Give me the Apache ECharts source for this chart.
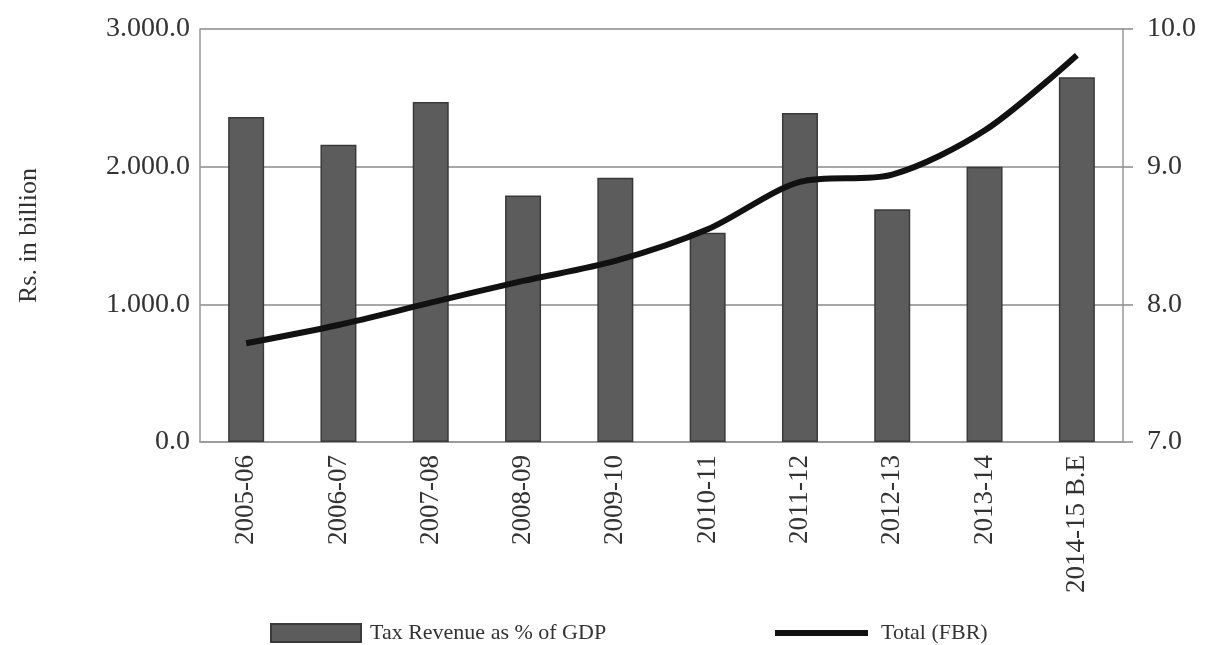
<!DOCTYPE html>
<html>
<head>
<meta charset="utf-8">
<script src="https://cdn.jsdelivr.net/npm/echarts@6/dist/echarts.min.js"></script>
<style>
  html, body { margin: 0; padding: 0; background: #fff; }
  #chart { width: 1210px; height: 645px; }
</style>
</head>
<body>
<div id="chart"></div>
<script>
// Fiscal years on the category axis
const years = ['2005-06', '2006-07', '2007-08', '2008-09', '2009-10',
               '2010-11', '2011-12', '2012-13', '2013-14', '2014-15 B.E'];
// Tax revenue as a share of GDP (%), right axis
const taxToGdp = [9.36, 9.16, 9.47, 8.79, 8.92, 8.52, 9.39, 8.69, 9.0, 9.65];
// Total FBR collection (Rs. billion), left axis
const fbrTotal = [717, 850, 1012, 1170, 1315, 1545, 1889, 1942, 2262, 2810];

const seriesNames = ['Tax Revenue as % of GDP', 'Total (FBR)'];
const leftTicks = { min: 0, max: 3000, interval: 1000 };
const rightTicks = { min: 7, max: 10, interval: 1 };

const serif = 'Liberation Serif';
const textColor = '#333';
const gridColor = '#8a8a8a';

// 3000 -> "3.000.0"
function fmtThousands(v) {
  const s = v.toFixed(1).split('.');
  const intPart = s[0].replace(/\B(?=(\d{3})+(?!\d))/g, '.');
  return intPart + '.' + s[1];
}

const chart = echarts.init(document.getElementById('chart'), null, { renderer: 'canvas' });

const legendText = { fontFamily: serif, fontSize: 22, color: textColor, lineHeight: 26 };

chart.setOption({
  backgroundColor: '#fff',
  animation: false,
  grid: { left: 200, right: 87, top: 29, bottom: 203, containLabel: false },
  legend: [
    {
      data: [{ name: seriesNames[0], icon: 'rect' }],
      left: 270, top: 620, padding: 0,
      itemWidth: 90, itemHeight: 18,
      textStyle: Object.assign({ padding: [0, 0, 0, 4] }, legendText)
    },
    {
      data: [{ name: seriesNames[1], icon: 'rect' }],
      left: 775, top: 620, padding: 0,
      itemWidth: 93, itemHeight: 6,
      itemStyle: { color: '#111' },
      textStyle: Object.assign({ padding: [0, 0, 0, 8] }, legendText)
    }
  ],
  xAxis: {
    type: 'category',
    data: years,
    axisLine: { show: true, lineStyle: { color: '#999', width: 1.5 } },
    axisTick: { show: false },
    axisLabel: {
      rotate: 90, margin: 13,
      fontFamily: serif, fontSize: 27, color: textColor
    }
  },
  yAxis: [
    {
      type: 'value',
      min: leftTicks.min, max: leftTicks.max, interval: leftTicks.interval,
      name: 'Rs. in billion',
      nameLocation: 'middle',
      nameGap: 158,
      nameRotate: 90,
      nameTextStyle: { fontFamily: serif, fontSize: 26, color: textColor },
      axisLine: { show: true, lineStyle: { color: '#999', width: 1.5 } },
      axisTick: { show: false },
      splitLine: { show: true, lineStyle: { color: gridColor, width: 1.5 } },
      axisLabel: {
        margin: 10,
        fontFamily: serif, fontSize: 28, color: textColor,
        formatter: fmtThousands
      }
    },
    {
      type: 'value',
      position: 'right',
      min: rightTicks.min, max: rightTicks.max, interval: rightTicks.interval,
      startValue: rightTicks.min,
      axisLine: { show: true, lineStyle: { color: '#999', width: 1.5 } },
      axisTick: { show: true, inside: false, length: 10, lineStyle: { color: gridColor, width: 1.5 } },
      splitLine: { show: false },
      axisLabel: {
        margin: 24,
        fontFamily: serif, fontSize: 28, color: textColor,
        formatter: v => v.toFixed(1)
      }
    }
  ],
  series: [
    {
      name: seriesNames[0],
      type: 'bar',
      yAxisIndex: 1,
      data: taxToGdp,
      barWidth: '39%',
      clip: true,
      itemStyle: { color: '#5c5c5c', borderColor: '#3a3a3a', borderWidth: 1.5 }
    },
    {
      name: seriesNames[1],
      type: 'line',
      yAxisIndex: 0,
      data: fbrTotal,
      smooth: 0.3,
      symbol: 'none',
      lineStyle: { color: '#111', width: 6 },
      itemStyle: { color: '#111' },
      z: 5
    }
  ]
});
</script>
</body>
</html>
